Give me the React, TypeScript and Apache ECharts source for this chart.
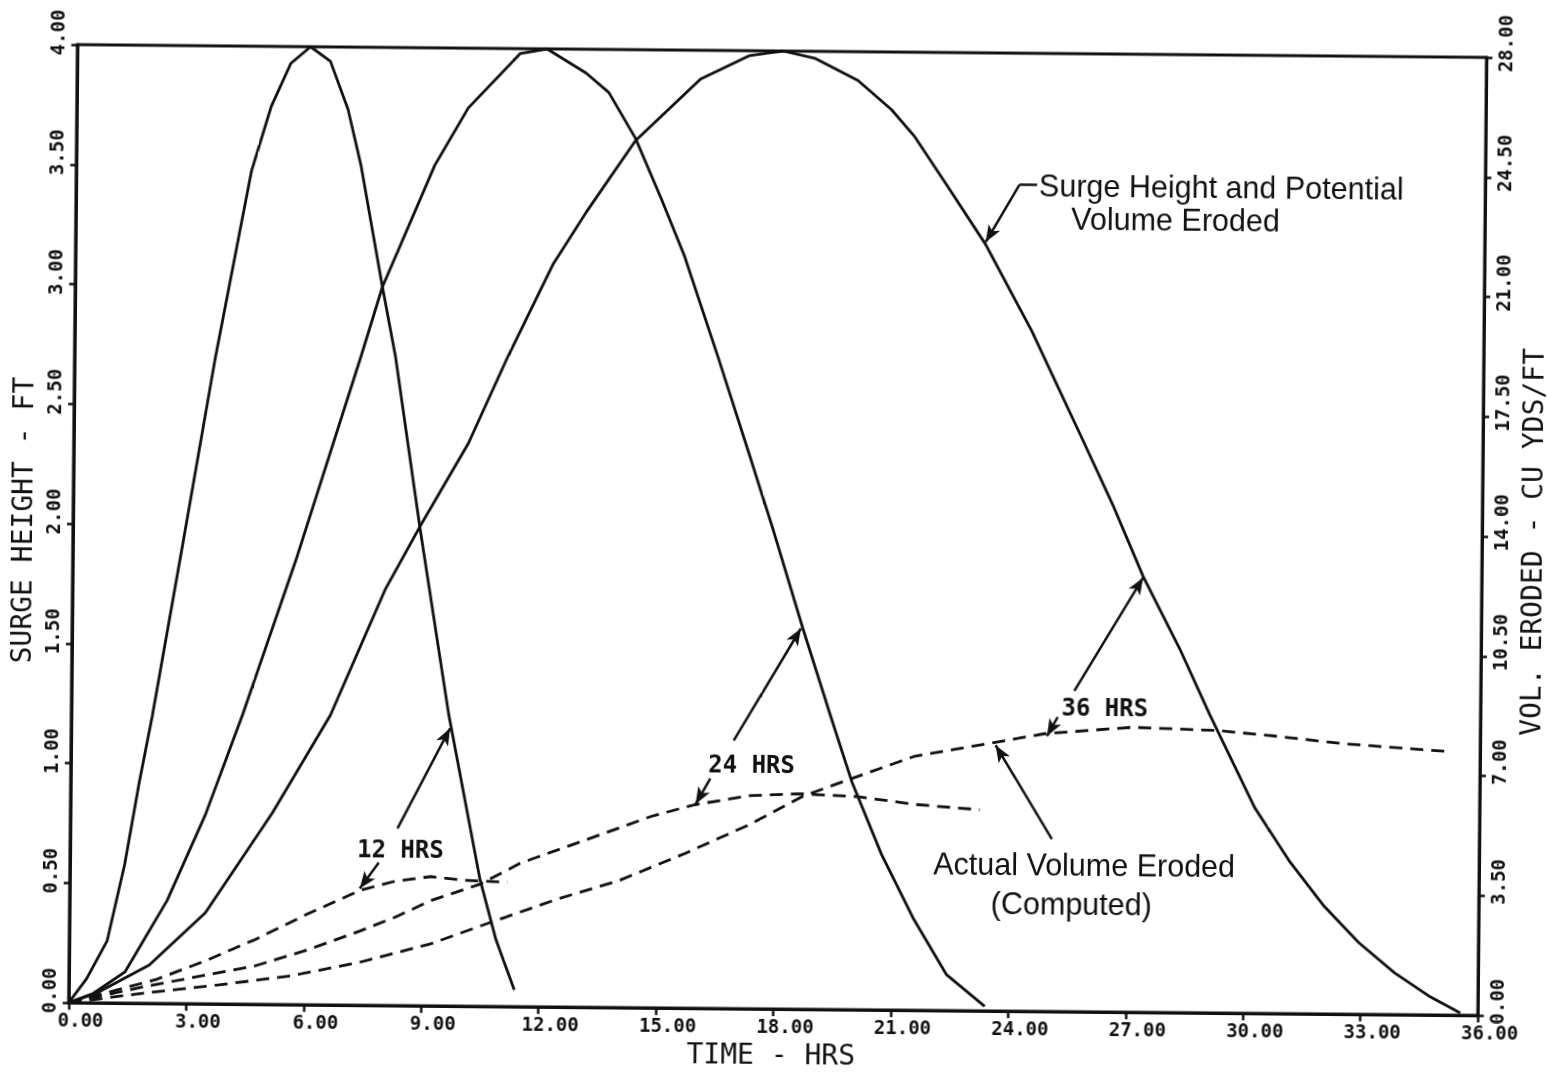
import { useEffect, useRef } from "react";
import * as echarts from "echarts";

// ---- data (time in hours, surge in feet, volume in cu yds/ft) ----
const xTickValues = [0, 3, 6, 9, 12, 15, 18, 21, 24, 27, 30, 33, 36];
const leftTickValues = [0, 0.5, 1, 1.5, 2, 2.5, 3, 3.5, 4];
const rightTickValues = [0, 3.5, 7, 10.5, 14, 17.5, 21, 24.5, 28];

const surge12Hours = [0, 0.45, 0.97, 1.4, 1.75, 2.07, 2.81, 3.6, 4.48, 4.97, 5.46, 5.96, 6.47, 6.93, 7.27, 7.85, 8.2, 8.86, 9.64, 10.48, 10.9, 11.38];
const surge12Feet = [0, 0.1, 0.26, 0.58, 0.92, 1.2, 1.92, 2.7, 3.48, 3.75, 3.93, 4.0, 3.94, 3.74, 3.51, 3.0, 2.71, 2.0, 1.22, 0.53, 0.28, 0.07];

const surge24Hours = [0, 0.63, 1.43, 2.49, 3.45, 4.38, 5.73, 7.32, 7.85, 9.16, 10.0, 11.32, 12.0, 13.01, 13.59, 14.28, 14.95, 15.56, 16.44, 17.27, 17.89, 18.67, 19.39, 19.96, 20.73, 21.57, 22.42, 23.4];
const surge24Feet = [0, 0.04, 0.13, 0.43, 0.79, 1.21, 1.87, 2.71, 3.0, 3.51, 3.75, 3.98, 4.0, 3.9, 3.82, 3.63, 3.38, 3.14, 2.72, 2.31, 2.0, 1.59, 1.23, 0.95, 0.65, 0.38, 0.15, 0.02];

const surge36Hours = [0, 0.7, 2.05, 3.47, 5.16, 6.62, 8.0, 8.86, 10.08, 11.06, 12.2, 13.04, 14.28, 15.93, 17.18, 18.03, 18.86, 19.95, 20.81, 21.4, 22.23, 23.25, 24.45, 25.74, 26.58, 27.35, 28.3, 29.07, 30.25, 31.14, 32.05, 32.94, 33.86, 34.74, 35.55];
const surge36Feet = [0, 0.04, 0.16, 0.38, 0.8, 1.21, 1.74, 2.0, 2.35, 2.71, 3.1, 3.32, 3.62, 3.88, 3.98, 4.0, 3.97, 3.88, 3.76, 3.65, 3.45, 3.2, 2.84, 2.4, 2.11, 1.82, 1.52, 1.25, 0.86, 0.64, 0.45, 0.3, 0.175, 0.08, 0.01];

const eroded12Hours = [0, 2.23, 3.48, 4.74, 6.09, 7.42, 8.32, 9.22, 10.1, 11.18];
const eroded12Volume = [0, 0.7, 1.26, 1.89, 2.66, 3.36, 3.64, 3.78, 3.68, 3.64];

const eroded24Hours = [0, 2.06, 4.74, 6.1, 7.42, 8.33, 9.23, 10.48, 11.51, 13.19, 14.84, 15.94, 17.35, 18.6, 20.11, 21.55, 23.23];
const eroded24Volume = [0, 0.52, 1.12, 1.61, 2.17, 2.59, 3.08, 3.57, 4.2, 4.9, 5.6, 5.95, 6.23, 6.3, 6.23, 6.02, 5.88];

const eroded36Hours = [0, 2.06, 3.84, 5.65, 7.43, 9.24, 10.74, 12.44, 14.02, 15.7, 17.36, 18.71, 19.86, 21.54, 23.54, 24.87, 27.11, 29.25, 30.68, 32.47, 35.24];
const eroded36Volume = [0, 0.32, 0.56, 0.84, 1.26, 1.82, 2.45, 3.15, 3.71, 4.52, 5.39, 6.23, 6.72, 7.42, 7.84, 8.12, 8.33, 8.26, 8.12, 7.91, 7.7];

// annotation texts, anchored in data units (hours, feet)
const noteTexts = ["12 HRS", "24 HRS", "36 HRS", "Surge Height and Potential", "Volume Eroded", "Actual Volume Eroded", "(Computed)"];
const noteHours = [8.44, 17.39, 26.4, 24.6, 25.43, 25.91, 25.59];
const noteFeet = [0.65, 1.02, 1.27, 3.45, 3.31, 0.615, 0.453];
const noteAlign = ["center", "center", "center", "left", "left", "center", "center"];
const noteKind = ["mono", "mono", "mono", "sans", "sans", "sans", "sans"];

// arrows: start (h, ft) -> tip (h, ft)
const arrowFrom = [[7.89, 0.596], [8.36, 0.74], [16.34, 0.96], [16.93, 1.12], [25.2, 1.23], [25.62, 1.34], [25.08, 0.72], [24.1, 3.45]];
const arrowTo = [[7.41, 0.488], [9.68, 1.16], [15.97, 0.853], [18.62, 1.59], [24.93, 1.15], [27.35, 1.815], [23.62, 1.11], [23.25, 3.21]];
const leaderFrom = [24.1, 3.45];
const leaderTo = [24.55, 3.45];

const MONO = "'DejaVu Sans Mono', monospace";
const SANS = "'Liberation Sans', Arial, sans-serif";
const INK = "#111";

const pairs = (xs: number[], ys: number[]) => xs.map((x, i) => [x, ys[i]]);

export default function App() {
  const ref = useRef<HTMLDivElement>(null);

  useEffect(() => {
    if (!ref.current) return;
    const chart = echarts.init(ref.current, null, { renderer: "svg" });

    const tickLabel = {
      fontFamily: MONO,
      fontWeight: "bold" as const,
      fontSize: 19,
      color: INK,
    };
    const axisLine = { show: true, onZero: false, lineStyle: { color: INK, width: 3 } };
    const axisTick = { show: true, length: 6, lineStyle: { color: INK, width: 2.5 } };

    const solid = { color: INK, width: 2.8, type: "solid" as const };
    const dashed = { color: INK, width: 2.8, type: [13, 8] as any };

    const markLineData: any[] = arrowFrom.map((f, i) => [
      { coord: f },
      { coord: arrowTo[i] },
    ]);
    markLineData.push([
      { coord: leaderFrom, symbol: "none" },
      { coord: leaderTo, symbol: "none" },
    ]);

    chart.setOption({
      animation: false,
      backgroundColor: "#fff",
      grid: {
        left: 64,
        right: 56,
        top: 51,
        bottom: 57,
        show: true,
        borderColor: INK,
        borderWidth: 3,
        backgroundColor: "transparent",
      },
      xAxis: {
        type: "value",
        min: xTickValues[0],
        max: xTickValues[xTickValues.length - 1],
        interval: xTickValues[1] - xTickValues[0],
        axisLine,
        axisTick: { ...axisTick, length: 7 },
        splitLine: { show: false },
        axisLabel: {
          ...tickLabel,
          margin: 7,
          padding: [0, 0, 0, 24],
          showMinLabel: true,
          showMaxLabel: true,
          formatter: (v: number) => v.toFixed(2),
        },
        name: "TIME - HRS",
        nameLocation: "middle",
        nameGap: 27,
        nameTextStyle: { fontFamily: MONO, fontSize: 28, color: INK, padding: [0, 4, 0, 0] },
      },
      yAxis: [
        {
          type: "value",
          position: "left",
          min: leftTickValues[0],
          max: leftTickValues[leftTickValues.length - 1],
          interval: leftTickValues[1] - leftTickValues[0],
          axisLine,
          axisTick,
          splitLine: { show: false },
          axisLabel: {
            ...tickLabel,
            rotate: 90,
            margin: 10,
            padding: [0, 0, 0, 24],
            showMinLabel: true,
            showMaxLabel: true,
            formatter: (v: number) => v.toFixed(2),
          },
          name: "SURGE HEIGHT - FT",
          nameLocation: "middle",
          nameRotate: 90,
          nameGap: 25,
          nameTextStyle: { fontFamily: MONO, fontSize: 28, color: INK, padding: [0, 0, 0, 6] },
        },
        {
          type: "value",
          position: "right",
          min: rightTickValues[0],
          max: rightTickValues[rightTickValues.length - 1],
          interval: rightTickValues[1] - rightTickValues[0],
          axisLine,
          axisTick,
          splitLine: { show: false },
          axisLabel: {
            ...tickLabel,
            rotate: 90,
            margin: 9,
            padding: [0, 0, 0, 28],
            showMinLabel: true,
            showMaxLabel: true,
            formatter: (v: number) => v.toFixed(2),
          },
          name: "VOL. ERODED - CU YDS/FT",
          nameLocation: "middle",
          nameRotate: 90,
          nameGap: 21,
          nameTextStyle: { fontFamily: MONO, fontSize: 28, color: INK, padding: [0, 10, 0, 0] },
        },
      ],
      series: [
        {
          name: "Surge 12 hrs",
          type: "line",
          yAxisIndex: 0,
          symbol: "none",
          data: pairs(surge12Hours, surge12Feet),
          lineStyle: solid,
          markLine: {
            silent: true,
            animation: false,
            symbol: ["none", "arrow"],
            symbolSize: [10, 17],
            label: { show: false },
            lineStyle: { color: INK, width: 2.5, type: "solid" },
            emphasis: { disabled: true },
            data: markLineData,
          },
        },
        { name: "Surge 24 hrs", type: "line", yAxisIndex: 0, symbol: "none", data: pairs(surge24Hours, surge24Feet), lineStyle: solid },
        { name: "Surge 36 hrs", type: "line", yAxisIndex: 0, symbol: "none", data: pairs(surge36Hours, surge36Feet), lineStyle: solid },
        { name: "Eroded 12 hrs", type: "line", yAxisIndex: 1, symbol: "none", data: pairs(eroded12Hours, eroded12Volume), lineStyle: dashed },
        { name: "Eroded 24 hrs", type: "line", yAxisIndex: 1, symbol: "none", data: pairs(eroded24Hours, eroded24Volume), lineStyle: dashed },
        { name: "Eroded 36 hrs", type: "line", yAxisIndex: 1, symbol: "none", data: pairs(eroded36Hours, eroded36Volume), lineStyle: dashed },
      ],
    });

    const graphic = noteTexts.map((text, i) => {
      const p = chart.convertToPixel({ gridIndex: 0 }, [noteHours[i], noteFeet[i]]) as number[];
      const mono = noteKind[i] === "mono";
      return {
        type: "text",
        x: p[0],
        y: p[1],
        silent: true,
        style: {
          text,
          fill: INK,
          font: mono ? `bold 24px ${MONO}` : `30.5px ${SANS}`,
          lineHeight: mono ? 26 : 30,
          align: noteAlign[i],
          verticalAlign: "middle",
          textAlign: noteAlign[i],
          textVerticalAlign: "middle",
        },
      };
    });
    chart.setOption({ graphic });

    return () => chart.dispose();
  }, []);

  return (
    <div
      ref={ref}
      style={{
        position: "fixed",
        left: 0,
        top: 0,
        width: 1554,
        height: 1073,
        background: "#fff",
        transform: "rotate(0.52deg)",
        transformOrigin: "50% 50%",
      }}
    />
  );
}
